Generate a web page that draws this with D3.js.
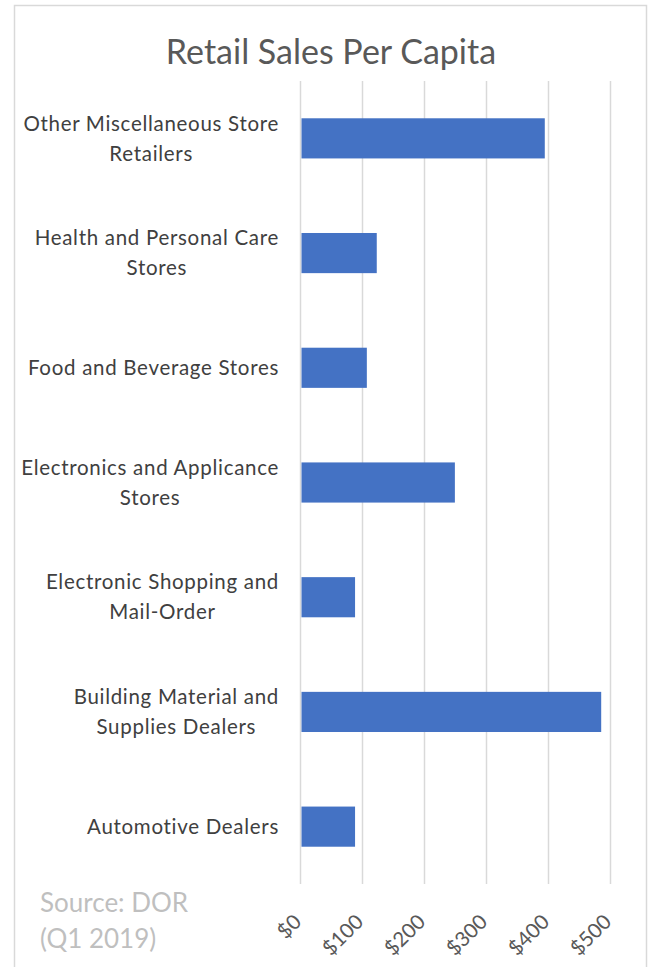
<!DOCTYPE html>
<html>
<head>
<meta charset="utf-8">
<script src="https://cdn.jsdelivr.net/npm/d3@7"></script>
<style>
  body { margin: 0; background: #fff; }
  text { font-family: Lato, "Open Sans", sans-serif; }
</style>
</head>
<body>
<div id="chart"></div>
<script>
const categories = [
  'Other Miscellaneous Store Retailers',
  'Health and Personal Care Stores',
  'Food and Beverage Stores',
  'Electronics and Applicance Stores',
  'Electronic Shopping and Mail-Order',
  'Building Material and Supplies Dealers',
  'Automotive Dealers'
];
const labelLines = [
  ['Other Miscellaneous Store', 'Retailers'],
  ['Health and Personal Care', 'Stores'],
  ['Food and Beverage Stores'],
  ['Electronics and Applicance', 'Stores'],
  ['Electronic Shopping and', 'Mail-Order'],
  ['Building Material and', 'Supplies Dealers'],
  ['Automotive Dealers']
];
const values = [394, 123, 107, 249, 88, 485, 88];
const tickValues = [0, 100, 200, 300, 400, 500];
const title = 'Retail Sales Per Capita';
const sourceLines = ['Source: DOR', '(Q1 2019)'];

const width = 652;
const height = 967;

const svg = d3.select('#chart')
              .append('svg')
              .attr('width', width)
              .attr('height', height);

// chart frame
svg.append('rect')
   .attr('x', 14.5)
   .attr('y', 5.5)
   .attr('width', 632)
   .attr('height', 980)
   .attr('fill', '#fff')
   .attr('stroke', '#d9d9d9')
   .attr('stroke-width', 1.5);

svg.append('text')
   .attr('x', 331)
   .attr('y', 64)
   .attr('text-anchor', 'middle')
   .style('font-size', '34px')
   .style('fill', '#595959')
   .text(title);

const x = d3.scaleLinear()
            .domain([0, 500])
            .range([300.5, 610.5]);

const y = d3.scaleBand()
            .domain(categories)
            .range([81, 884])
            .paddingInner(0.65)
            .paddingOuter(0.325);

// gridlines
svg.append('g')
   .selectAll('line')
   .data(tickValues)
   .enter()
   .append('line')
   .attr('x1', (d) => x(d))
   .attr('x2', (d) => x(d))
   .attr('y1', 81)
   .attr('y2', 884)
   .attr('stroke', '#d9d9d9')
   .attr('stroke-width', 1.5);

svg.append('g')
   .selectAll('rect')
   .data(values)
   .enter()
   .append('rect')
   .attr('x', x(0) + 1)
   .attr('y', (d, i) => y(categories[i]))
   .attr('width', (d) => x(d) - x(0) - 1)
   .attr('height', y.bandwidth())
   .attr('fill', '#4472c4');

// category labels: block right-aligned, lines centred within block
const labelRight = 279;
const labels = svg.append('g')
                  .selectAll('text')
                  .data(categories)
                  .enter()
                  .append('text')
                  .style('font-size', '20.5px')
                  .style('letter-spacing', '0.7px')
                  .style('fill', '#404040')
                  .attr('text-anchor', 'middle');

labels.each(function (d, i) {
  const el = d3.select(this);
  const lines = labelLines[i];
  const cy = y(d) + y.bandwidth() / 2;
  const tspans = lines.map((line, j) => el.append('tspan')
      .attr('y', cy + (j - (lines.length - 1) / 2) * 30)
      .attr('dy', '0.35em')
      .text(line));
  const maxW = d3.max(tspans, (t) => t.node().getComputedTextLength());
  tspans.forEach((t) => t.attr('x', labelRight - maxW / 2));
});

// x tick labels, rotated
svg.append('g')
   .selectAll('text')
   .data(tickValues)
   .enter()
   .append('text')
   .attr('transform', (d) => 'translate(' + (x(d) - 3) + ',' + 918 + ') rotate(-45)')
   .attr('text-anchor', 'end')
   .attr('dy', '0.35em')
   .style('font-size', '20.5px')
   .style('fill', '#595959')
   .text((d) => '$' + d);

svg.append('g')
   .selectAll('text')
   .data(sourceLines)
   .enter()
   .append('text')
   .attr('x', 40)
   .attr('y', (d, i) => 912 + i * 36)
   .style('font-size', '26px')
   .style('fill', '#bfbfbf')
   .text((d) => d);
</script>
</body>
</html>
